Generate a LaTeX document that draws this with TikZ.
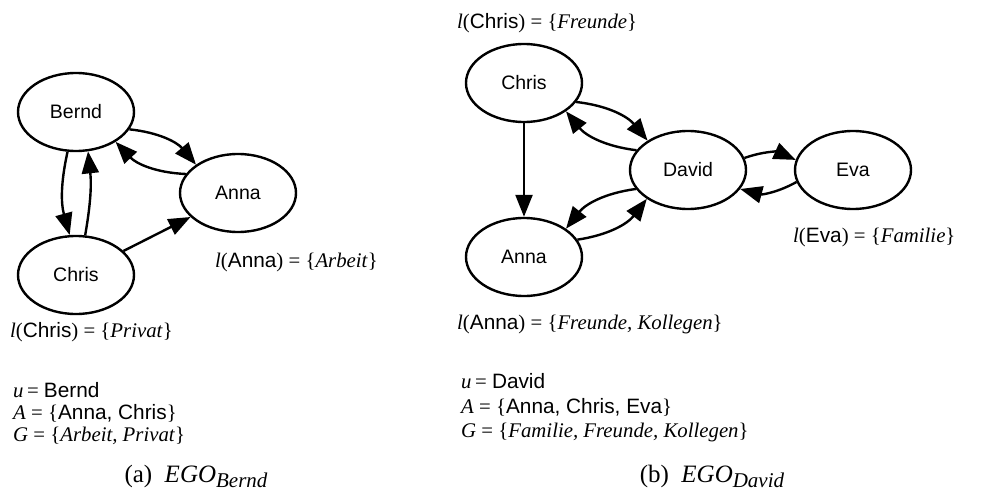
\documentclass[tikz,border=0pt]{standalone}
\usepackage{fontspec}
\setmainfont{Liberation Serif}
\newfontfamily\sans{Liberation Sans}
\usetikzlibrary{shapes.geometric,arrows.meta}
\begin{document}
\begin{tikzpicture}[x=1pt,y=1pt,
 ego/.style={ellipse,draw,line width=2.4pt,minimum width=116pt,minimum height=78pt,inner sep=0pt,font=\sans\fontsize{19.5}{22}\selectfont},
 edge/.style={line width=2.4pt,-{Triangle[length=22pt,width=17pt]}},
 lbl/.style={anchor=base west,inner sep=0pt,font=\fontsize{20.8}{24}\selectfont},
 captext/.style={anchor=base,inner sep=0pt,font=\fontsize{25}{28}\selectfont}]
\path[use as bounding box] (0,0) rectangle (982,-495);
% ---- left panel
\node[ego] (B1) at (76,-112) {Bernd};
\node[ego] (A1) at (238,-193) {Anna};
\node[ego] (C1) at (76,-275) {Chris};
\draw[edge] (B1.342) to[bend left=22] (A1.146);
\draw[edge] (A1.160) to[bend left=22] (B1.323);
\draw[edge] (B1.258) to[bend right=14] (C1.99);
\draw[edge] (C1.77) to[bend right=8] (B1.287);
\draw[edge] (C1) -- (A1);
\node[lbl] (lA1) at (215,-267) {\textit{l}({\sans Anna}) = \{\textit{Arbeit}\}};
\node[lbl] (lC1) at (10,-337) {\textit{l}({\sans Chris}) = \{\textit{Privat}\}};
\node[lbl] (u1) at (13,-397) {\textit{u}\,= {\sans Bernd}};
\node[lbl] (a1) at (13,-419) {\textit{A} = \{{\sans Anna, Chris}\}};
\node[lbl] (g1) at (13,-441) {\textit{G} = \{\textit{Arbeit, Privat}\}};
\node[captext] (cap1) at (196,-482) {(a)\enspace\textit{EGO}\raisebox{-5pt}{\fontsize{21}{22}\selectfont\textit{Bernd}}};
% ---- right panel
\node[ego] (C2) at (524,-83) {Chris};
\node[ego] (D2) at (688,-170) {David};
\node[ego] (E2) at (853,-170) {Eva};
\node[ego] (A2) at (524,-257) {Anna};
\draw[edge] (C2.340) to[bend left=22] (D2.144);
\draw[edge] (D2.159) to[bend left=22] (C2.326);
\draw[edge] (C2) -- (A2);
\draw[edge] (D2.200) to[bend right=22] (A2.34);
\draw[edge] (A2.18) to[bend right=22] (D2.215);
\draw[edge] (D2.12) to[bend left=22] (E2.170);
\draw[edge] (E2.192) to[bend left=22] (D2.340);
\node[lbl] (lC2) at (457,-29) {\textit{l}({\sans Chris}) = \{\textit{Freunde}\}};
\node[lbl] (lE2) at (793,-242) {\textit{l}({\sans Eva}) = \{\textit{Familie}\}};
\node[lbl] (lA2) at (457,-329) {\textit{l}({\sans Anna}) = \{\textit{Freunde, Kollegen}\}};
\node[lbl] (u2) at (461,-388) {\textit{u}\,= {\sans David}};
\node[lbl] (a2) at (461,-413) {\textit{A} = \{{\sans Anna, Chris, Eva}\}};
\node[lbl] (g2) at (461,-437) {\textit{G} = \{\textit{Familie, Freunde, Kollegen}\}};
\node[captext] (cap2) at (712,-482) {(b)\enspace\textit{EGO}\raisebox{-5pt}{\fontsize{21}{22}\selectfont\textit{David}}};
\end{tikzpicture}
\end{document}
